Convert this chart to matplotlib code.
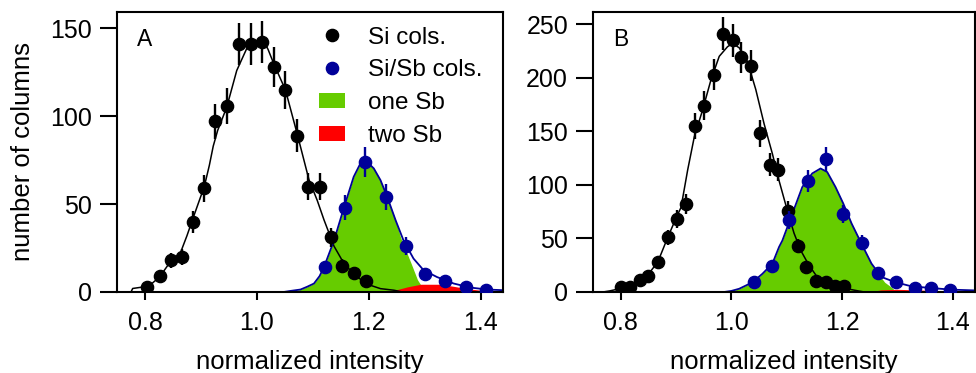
'''
Histograms of column intensities, Si columns vs Si/Sb columns (panels A and B)
'''

#Imports
import matplotlib
matplotlib.use('Agg')
import numpy as np
import matplotlib.pyplot as plt
from matplotlib.lines import Line2D
from matplotlib.patches import Patch

plt.rcParams['font.family'] = ['Liberation Sans', 'DejaVu Sans']

#Colors
c_si = 'black'
c_sb = '#000099'
c_one = '#66cc00'
c_two = '#ff0000'

# ---- Panel A data ----
# measured Si columns
xA_si = [0.803, 0.826, 0.846, 0.866, 0.885, 0.905, 0.926, 0.946, 0.968, 0.989,
         1.009, 1.030, 1.051, 1.071, 1.091, 1.112, 1.133, 1.153, 1.173, 1.195]
yA_si = [3, 9, 18, 20, 40, 59, 97, 106, 141, 141,
         142, 128, 115, 89, 60, 60, 31, 15, 11, 6]
eA_si = [1.7, 3.0, 4.2, 4.5, 6.3, 7.7, 9.8, 10.3, 11.9, 11.9,
         11.9, 11.3, 10.7, 9.4, 7.7, 7.7, 5.6, 3.9, 3.3, 2.4]
# measured Si/Sb columns
xA_sb = [1.122, 1.158, 1.194, 1.230, 1.266, 1.300, 1.337, 1.373, 1.409]
yA_sb = [14, 48, 74, 54, 26, 10, 6, 3, 1]
eA_sb = [3.7, 6.9, 8.6, 7.3, 5.1, 3.2, 2.4, 1.7, 1.0]
# simulated Si curve
xA_si_sim = [0.767, 0.775, 0.778, 0.800, 0.813, 0.826, 0.846, 0.863, 0.875, 0.887,
             0.906, 0.915, 0.922, 0.930, 0.946, 0.964, 0.982, 1.000, 1.012, 1.020,
             1.030, 1.051, 1.072, 1.093, 1.108, 1.120, 1.138, 1.156, 1.179, 1.203,
             1.221, 1.245, 1.260]
yA_si_sim = [0, 0, 2, 3, 5, 8.5, 17.5, 22, 32, 43,
             60, 72, 83, 92, 105, 126, 138.6, 143, 143, 138,
             130, 115, 90, 64, 52, 41, 26, 16, 8.5, 3.8,
             1.9, 1, 0]
# simulated Si/Sb curve (total)
xA_sb_sim = [1.048, 1.060, 1.078, 1.090, 1.102, 1.112, 1.120, 1.138, 1.156, 1.173,
             1.185, 1.197, 1.209, 1.221, 1.233, 1.248, 1.262, 1.280, 1.298, 1.322,
             1.352, 1.382, 1.412, 1.441]
yA_sb_sim = [0, 0.6, 1.4, 3, 4.8, 9, 14.2, 29.4, 48.4, 65.5,
             73.1, 74, 70.3, 63.6, 54.1, 40.8, 29.4, 19, 12.4, 8.5,
             4.8, 2.5, 1.4, 1]
# one Sb component
xA_one = [1.048, 1.060, 1.078, 1.090, 1.102, 1.112, 1.120, 1.138, 1.156, 1.173,
          1.185, 1.197, 1.209, 1.221, 1.233, 1.248, 1.257, 1.276, 1.287, 1.295, 1.300]
yA_one = [0, 0.6, 1.4, 3, 4.8, 9, 14.2, 29.4, 48.4, 65.5,
          73.1, 74, 70.3, 63.6, 54.1, 40.8, 31, 16, 7, 3, 0]
# two Sb component
xA_two = [1.215, 1.240, 1.251, 1.269, 1.293, 1.328, 1.352, 1.376, 1.400, 1.420]
yA_two = [0, 0.8, 1.4, 2.9, 4.4, 4.4, 3.2, 1.9, 1, 0]

# ---- Panel B data ----
xB_si = [0.801, 0.817, 0.834, 0.850, 0.868, 0.885, 0.901, 0.918, 0.934, 0.951,
         0.968, 0.984, 1.002, 1.018, 1.035, 1.052, 1.069, 1.085, 1.102, 1.120,
         1.135, 1.153, 1.171, 1.187, 1.203]
yB_si = [5, 5, 11, 15, 28, 51, 68, 82, 155, 174,
         203, 241, 235, 219, 211, 148, 119, 114, 76, 43,
         23, 10, 9, 6, 6]
eB_si = [2.2, 2.2, 3.3, 3.9, 5.3, 7.1, 8.2, 9.1, 12.4, 13.2,
         14.2, 15.5, 15.3, 14.8, 14.5, 12.2, 10.9, 10.7, 8.7, 6.6,
         4.8, 3.2, 3.0, 2.4, 2.4]
xB_sb = [1.041, 1.073, 1.104, 1.138, 1.171, 1.202, 1.235, 1.265, 1.298, 1.331, 1.361, 1.394]
yB_sb = [9, 24, 67, 104, 124, 73, 46, 18, 9, 4, 4, 2]
eB_sb = [3.0, 4.9, 8.2, 10.2, 11.1, 8.5, 6.8, 4.2, 3.0, 2.0, 2.0, 1.4]
xB_si_sim = [0.768, 0.780, 0.798, 0.822, 0.846, 0.867, 0.885, 0.900, 0.909, 0.921,
             0.933, 0.948, 0.963, 0.978, 0.993, 1.002, 1.014, 1.029, 1.044, 1.059,
             1.074, 1.086, 1.101, 1.113, 1.125, 1.140, 1.157, 1.175, 1.193, 1.217,
             1.229, 1.240]
yB_si_sim = [0, 1, 3, 6, 14, 28, 51, 69, 79, 114,
             145, 170, 198, 220, 229, 232, 228, 215, 189, 157,
             129, 104, 76, 55, 39, 25, 12.5, 8, 4.7, 2.2,
             1, 0]
xB_sb_sim = [0.987, 1.000, 1.014, 1.038, 1.056, 1.074, 1.086, 1.092, 1.110, 1.128,
             1.146, 1.161, 1.173, 1.188, 1.202, 1.217, 1.235, 1.253, 1.271, 1.295,
             1.325, 1.361, 1.397, 1.438]
yB_sb_sim = [0, 1, 3, 9, 17, 26.5, 42, 48, 73, 98,
             110.7, 115.3, 112, 98, 82.6, 64, 45, 26.5, 14, 9.3,
             5.3, 3.7, 2.2, 1.5]
xB_one = [0.987, 1.000, 1.014, 1.038, 1.056, 1.074, 1.086, 1.092, 1.110, 1.128,
          1.146, 1.161, 1.173, 1.188, 1.202, 1.217, 1.235, 1.253, 1.265, 1.277, 1.289, 1.298]
yB_one = [0, 1, 3, 9, 17, 26.5, 42, 48, 73, 98,
          110.7, 115.3, 112, 98, 82.6, 64, 45, 26, 17, 9, 4.5, 0]
xB_two = [1.229, 1.235, 1.260, 1.270, 1.300, 1.330, 1.360, 1.378, 1.385]
yB_two = [0, 0.5, 1, 2, 2.5, 2, 1.5, 1, 0]


def style_axis(ax, ymax, yticks):
    ax.set_xlim(0.75, 1.44)
    ax.set_ylim(0, ymax)
    ax.set_xticks([0.8, 1.0, 1.2, 1.4])
    ax.set_xticklabels(['0.8', '1.0', '1.2', '1.4'])
    ax.set_yticks(yticks)
    for s in ax.spines.values():
        s.set_linewidth(1.5)
    ax.tick_params(axis='y', direction='out', length=12, width=1.5, pad=6, labelsize=18)
    ax.tick_params(axis='x', direction='out', length=5.5, width=1.5, pad=8, labelsize=18)
    ax.set_xlabel('normalized intensity', fontsize=18.5, labelpad=11)


def draw_panel(ax, si, sb, si_sim, sb_sim, one, two, letter):
    ax.fill_between(one[0], one[1], 0, color=c_one, lw=0, zorder=1)
    ax.fill_between(two[0], two[1], 0, color=c_two, lw=0, zorder=1.5)
    ax.plot(si_sim[0], si_sim[1], color=c_si, lw=1.1, zorder=2)
    ax.plot(sb_sim[0], sb_sim[1], color=c_sb, lw=1.3, zorder=2)
    ax.errorbar(si[0], si[1], yerr=si[2], fmt='o', color=c_si, ms=8.8,
                elinewidth=1.7, capsize=0, zorder=3)
    ax.errorbar(sb[0], sb[1], yerr=sb[2], fmt='o', color=c_sb, ms=8.8,
                elinewidth=1.7, capsize=0, zorder=4)
    ax.text(0.052, 0.9, letter, transform=ax.transAxes, fontsize=16.5,
            ha='left', va='center')


fig = plt.figure(figsize=(9.76, 3.73), dpi=100)
axA = fig.add_axes([0.1199, 0.2172, 0.3955, 0.7507])
axB = fig.add_axes([0.6076, 0.2172, 0.3914, 0.7507])

draw_panel(axA, (xA_si, yA_si, eA_si), (xA_sb, yA_sb, eA_sb),
           (xA_si_sim, yA_si_sim), (xA_sb_sim, yA_sb_sim),
           (xA_one, yA_one), (xA_two, yA_two), 'A')
style_axis(axA, 159.3, [0, 50, 100, 150])
axA.set_ylabel('number of columns', fontsize=18.5, labelpad=11)

draw_panel(axB, (xB_si, yB_si, eB_si), (xB_sb, yB_sb, eB_sb),
           (xB_si_sim, yB_si_sim), (xB_sb_sim, yB_sb_sim),
           (xB_one, yB_one), (xB_two, yB_two), 'B')
style_axis(axB, 261.4, [0, 50, 100, 150, 200, 250])

#Legend (panel A only)
handles = [Line2D([], [], marker='o', ls='none', color=c_si, ms=8.8),
           Line2D([], [], marker='o', ls='none', color=c_sb, ms=8.8),
           Patch(facecolor=c_one, edgecolor='none'),
           Patch(facecolor=c_two, edgecolor='none')]
labels = ['Si cols.', 'Si/Sb cols.', 'one Sb', 'two Sb']
axA.legend(handles, labels, loc='upper left', bbox_to_anchor=(0.523, 0.948),
           frameon=False, fontsize=17.5, borderpad=0, borderaxespad=0,
           handlelength=1.07, handleheight=0.58, handletextpad=0.93,
           labelspacing=0.45)

fig.savefig('out.png', dpi=100)
